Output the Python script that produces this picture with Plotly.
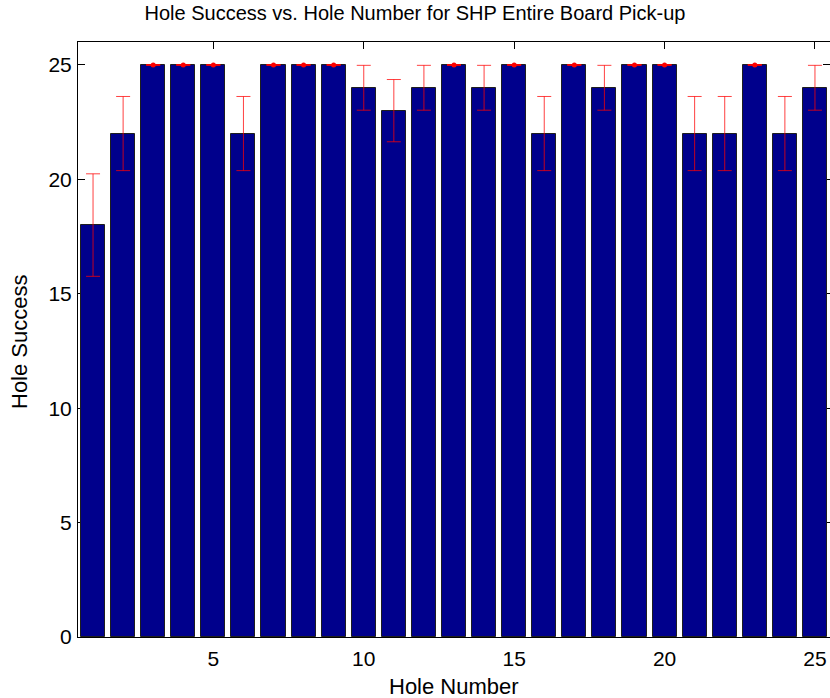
import plotly.graph_objects as go

hole_number = list(range(1, 26))
hole_success = [18, 22, 25, 25, 25, 22, 25, 25, 25, 24, 23, 24, 25,
                24, 25, 22, 25, 24, 25, 25, 22, 22, 25, 22, 24]
success_error = [2.24, 1.62, 0, 0, 0, 1.62, 0, 0, 0, 0.98, 1.36, 0.98, 0,
                 0.98, 0, 1.62, 0, 0.98, 0, 0, 1.62, 1.62, 0, 1.62, 0.98]
x_ticks = [5, 10, 15, 20, 25]
y_ticks = [0, 5, 10, 15, 20, 25]

FONT = "Liberation Sans, Arial, Helvetica, sans-serif"

# dots are visible in the reference only where the error bar has zero length
dot_x = [h for h, e in zip(hole_number, success_error) if e == 0]
dot_y = [s for s, e in zip(hole_success, success_error) if e == 0]

fig = go.Figure()
fig.add_trace(go.Bar(
    x=hole_number, y=hole_success, width=0.8,
    marker=dict(color="rgb(0,0,140)", line=dict(color="rgb(30,30,30)", width=1)),
    showlegend=False,
))
fig.add_trace(go.Scatter(
    x=hole_number, y=hole_success, mode="markers",
    marker=dict(color="rgba(0,0,0,0)", size=1),
    error_y=dict(type="data", array=success_error, visible=True,
                 color="rgba(255,0,0,0.75)", thickness=1, width=7),
    showlegend=False, hoverinfo="skip",
))
fig.add_trace(go.Scatter(
    x=dot_x, y=dot_y, mode="markers",
    marker=dict(color="red", size=5),
    error_y=dict(type="constant", value=0, visible=True,
                 color="red", thickness=1.5, width=7),
    showlegend=False,
))

axis_common = dict(
    showgrid=False, zeroline=False, showline=True, linecolor="black", linewidth=1,
    mirror="ticks", ticks="inside", ticklen=7, tickcolor="black", tickwidth=1,
    layer="below traces", tickfont=dict(family=FONT, size=21, color="black"),
)

fig.update_layout(
    width=830, height=698,
    margin=dict(l=78, r=0, t=42, b=61),
    paper_bgcolor="white", plot_bgcolor="white",
    bargap=0,
    title=dict(text="Hole Success vs. Hole Number for SHP Entire Board Pick-up",
               x=0.5, xref="container", xanchor="center",
               y=1 - 13 / 698, yref="container", yanchor="middle",
               font=dict(family=FONT, size=20, color="black")),
    xaxis=dict(range=[0.5, 25.5], tickvals=x_ticks, ticklabelstandoff=3, **axis_common),
    yaxis=dict(range=[0, 26], tickvals=y_ticks, ticklabelstandoff=1, **axis_common),
    annotations=[
        dict(text="Hole Number", x=0.5, xref="paper", y=-(686 - 637) / 595, yref="paper",
             xanchor="center", yanchor="middle", showarrow=False,
             font=dict(family=FONT, size=22, color="black")),
        dict(text="Hole Success", x=(19 - 78) / 752, xref="paper", y=(637 - 342) / 595,
             yref="paper", xanchor="center", yanchor="middle", textangle=-90,
             showarrow=False, font=dict(family=FONT, size=22, color="black")),
    ],
)

fig.write_html(
    "out.html",
    config={"displayModeBar": False},
    post_script="document.body.style.margin='0';document.body.style.overflow='hidden';",
)
